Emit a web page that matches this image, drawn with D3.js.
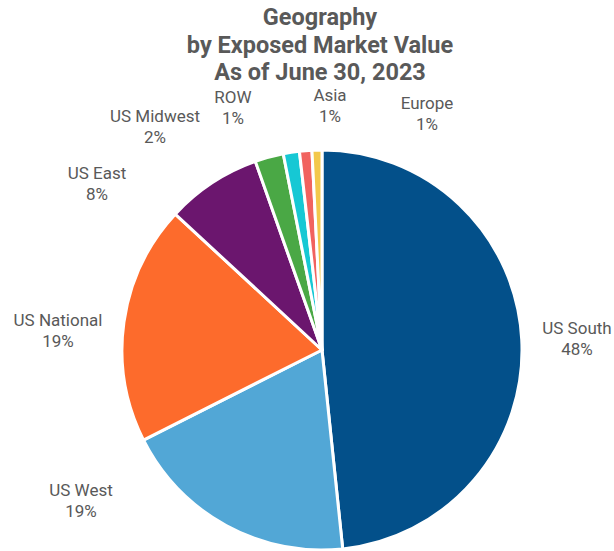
<!DOCTYPE html>
<html>
<head>
<meta charset="utf-8">
<script src="https://cdn.jsdelivr.net/npm/d3@7"></script>
<style>
  html, body { margin: 0; padding: 0; background: #fff; }
  svg { display: block; font-family: Roboto, "Noto Sans", sans-serif; }
</style>
</head>
<body>
<svg id="chart" width="614" height="551"></svg>
<script>
// Share of exposed market value by region (%)
const categories = ["US South", "US West", "US National", "US East", "US Midwest", "ROW", "Asia", "Europe"];
const values = [48.3, 19.2, 19.3, 7.7, 2.3, 1.3, 1.0, 0.8];
const colors = ["#03508a", "#52a7d6", "#fd6b2c", "#6b166e", "#4aa845", "#16c8d4", "#f1635f", "#f3c84b"];
const titleLines = ["Geography", "by Exposed Market Value", "As of June 30, 2023"];

// Label anchor (text centre of the name line) for each slice
const labelAnchors = [
  [577, 328], [81, 490], [58, 320], [97, 173],
  [155, 116], [233, 97], [330, 95], [427, 103]
];

const svg = d3.select("#chart");
const cx = 322, cy = 350, radius = 200;

const data = categories.map((c, i) => ({ name: c, value: values[i], color: colors[i] }));

const pie = d3.pie().value(d => d.value).sort(null);
const arc = d3.arc().innerRadius(0).outerRadius(radius);

const g = svg.append("g").attr("transform", `translate(${cx},${cy})`);
g.selectAll("path")
  .data(pie(data))
  .join("path")
  .attr("d", arc)
  .attr("fill", d => d.data.color)
  .attr("stroke", "#fff")
  .attr("stroke-width", 3)
  .attr("stroke-linejoin", "round");

// Title
svg.append("g")
  .selectAll("text")
  .data(titleLines)
  .join("text")
  .attr("x", 320)
  .attr("y", (d, i) => 25 + i * 27.5)
  .attr("text-anchor", "middle")
  .attr("font-size", 23.5)
  .attr("font-weight", "bold")
  .attr("fill", "#595959")
  .text(d => d);

// Category labels with percentages
const fmt = v => Math.round(v) + "%";
const labels = svg.append("g")
  .selectAll("text")
  .data(data)
  .join("text")
  .attr("text-anchor", "middle")
  .attr("font-size", 17)
  .attr("fill", "#595959");

labels.append("tspan")
  .attr("x", (d, i) => labelAnchors[i][0])
  .attr("y", (d, i) => labelAnchors[i][1] + 6)
  .text(d => d.name);
labels.append("tspan")
  .attr("x", (d, i) => labelAnchors[i][0])
  .attr("y", (d, i) => labelAnchors[i][1] + 27)
  .text(d => fmt(d.value));
</script>
</body>
</html>
